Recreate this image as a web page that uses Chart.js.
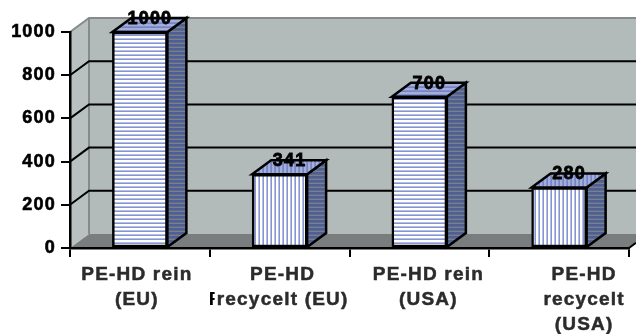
<!DOCTYPE html>
<html>
<head>
<meta charset="utf-8">
<style>
  html, body { margin: 0; padding: 0; background: #fff; }
  #chart { display: block; }
</style>
<script src="https://cdn.jsdelivr.net/npm/chart.js@4/dist/chart.umd.js"></script>
</head>
<body>
<canvas id="chart" width="636" height="334"></canvas>
<script>
const categories = [
  ["PE-HD rein", "(EU)"],
  ["PE-HD", "recycelt (EU)"],
  ["PE-HD rein", "(USA)"],
  ["PE-HD", "recycelt", "(USA)"],
];
const values = [1000, 341, 700, 280];
const yTicks = [0, 200, 400, 600, 800, 1000];
const stripeDirections = ["h", "v", "h", "v"];
const labelShifts = [-3, 3, 9, 25];

const DEPTH_X = 19;
const DEPTH_Y = 14;
const FONT = "'Liberation Sans', Arial, sans-serif";

// small repeating tile, used for the faces of the columns
function stripes(direction, base, soft, line, period) {
  const c = document.createElement("canvas");
  c.width = c.height = period;
  const g = c.getContext("2d");
  g.fillStyle = base;
  g.fillRect(0, 0, period, period);
  if (direction === "h") {
    g.fillStyle = soft;
    g.fillRect(0, period - 2, period, 1);
    g.fillStyle = line;
    g.fillRect(0, period - 1, period, 1);
  } else {
    g.fillStyle = soft;
    g.fillRect(period - 2, 0, 1, period);
    g.fillStyle = line;
    g.fillRect(period - 1, 0, 1, period);
  }
  return g.createPattern(c, "repeat");
}

function poly(ctx, points, fill, stroke, width) {
  ctx.beginPath();
  points.forEach((p, i) => (i ? ctx.lineTo(p[0], p[1]) : ctx.moveTo(p[0], p[1])));
  ctx.closePath();
  if (fill) {
    ctx.fillStyle = fill;
    ctx.fill();
  }
  if (stroke) {
    ctx.strokeStyle = stroke;
    ctx.lineWidth = width;
    ctx.lineJoin = "miter";
    ctx.stroke();
  }
}

const wallsPlugin = {
  id: "walls",
  afterLayout(chart) {
    // move the category labels sideways, each by its own amount
    chart.scales.x.getLabelItems().forEach((item, i) => {
      item.options.translation[0] += labelShifts[i];
    });
  },
  beforeDraw(chart) {
    const ctx = chart.ctx;
    const { left, right, top, bottom } = chart.chartArea;
    const edge = chart.width;
    const y = chart.scales.y;
    ctx.letterSpacing = "1.2px";
    ctx.save();
    // back wall, side wall, floor
    poly(ctx, [[left + DEPTH_X, top - DEPTH_Y], [edge, top - DEPTH_Y], [edge, bottom - DEPTH_Y], [left + DEPTH_X, bottom - DEPTH_Y]], "#b2baba");
    poly(ctx, [[left, top], [left + DEPTH_X, top - DEPTH_Y], [left + DEPTH_X, bottom - DEPTH_Y], [left, bottom]], "#b8c0c0");
    poly(ctx, [[left, bottom], [left + DEPTH_X, bottom - DEPTH_Y], [edge, bottom - DEPTH_Y], [edge, bottom - (edge - right) * DEPTH_Y / DEPTH_X], [right, bottom]], "#797d7e");
    // wall outline
    ctx.strokeStyle = "#868a8b";
    ctx.lineWidth = 2;
    ctx.beginPath();
    ctx.moveTo(left, top);
    ctx.lineTo(left + DEPTH_X, top - DEPTH_Y);
    ctx.lineTo(edge, top - DEPTH_Y);
    ctx.moveTo(left + DEPTH_X, top - DEPTH_Y);
    ctx.lineTo(left + DEPTH_X, bottom - DEPTH_Y);
    ctx.stroke();
    // gridlines bent across side and back wall
    ctx.strokeStyle = "#000";
    ctx.lineWidth = 2;
    yTicks.slice(1, -1).forEach((v) => {
      const py = y.getPixelForValue(v);
      ctx.beginPath();
      ctx.moveTo(left, py);
      ctx.lineTo(left + DEPTH_X, py - DEPTH_Y);
      ctx.lineTo(edge, py - DEPTH_Y);
      ctx.stroke();
    });
    // axis corner at the right of the floor
    ctx.beginPath();
    ctx.moveTo(right, bottom);
    ctx.lineTo(edge, bottom - (edge - right) * DEPTH_Y / DEPTH_X);
    ctx.stroke();
    ctx.restore();
  },
  afterDatasetsDraw(chart) {
    const ctx = chart.ctx;
    const meta = chart.getDatasetMeta(0);
    ctx.save();
    meta.data.forEach((bar, i) => {
      const l = bar.x - bar.width / 2;
      const r = bar.x + bar.width / 2;
      poly(ctx, [[r, bar.y], [r + DEPTH_X, bar.y - DEPTH_Y], [r + DEPTH_X, bar.base - DEPTH_Y], [r, bar.base]],
        stripes("h", "#4f5f92", "#5d6a92", "#77808c", 4), "#000", 2.5);
      poly(ctx, [[l, bar.y], [l + DEPTH_X, bar.y - DEPTH_Y], [r + DEPTH_X, bar.y - DEPTH_Y], [r, bar.y]],
        stripes(stripeDirections[i], "#a3aedd", "#8492cc", "#7684c0", 4), "#000", 2.5);
    });
    // value labels sit on the top face
    ctx.fillStyle = "#000";
    ctx.strokeStyle = "#000";
    ctx.lineWidth = 0.8;
    ctx.font = "bold 18px " + FONT;
    ctx.textAlign = "center";
    ctx.textBaseline = "middle";
    meta.data.forEach((bar, i) => {
      const t = String(values[i]);
      ctx.fillText(t, bar.x + 10, bar.y - DEPTH_Y + 1);
      ctx.strokeText(t, bar.x + 10, bar.y - DEPTH_Y + 1);
    });
    // leftover glyph in front of the second category label
    const bounds = chart.scales.x.getPixelForTick(1);
    ctx.beginPath();
    ctx.rect(bounds - 70, 290, 5, 20);
    ctx.clip();
    ctx.font = "bold 19px " + FONT;
    ctx.textAlign = "left";
    ctx.fillText("F", bounds - 71, 300);
    ctx.restore();
  },
};

new Chart(document.getElementById("chart"), {
  type: "bar",
  data: {
    labels: categories,
    datasets: [
      {
        data: values,
        backgroundColor: stripeDirections.map((d) => stripes(d, "#ffffff", "#b4bde6", "#8795d0", 4)),
        borderColor: "#000",
        borderWidth: 2.5,
        borderSkipped: false,
        barThickness: 55,
      },
    ],
  },
  options: {
    responsive: false,
    animation: false,
    layout: { padding: { top: 32, right: 7, left: 0, bottom: 0 } },
    plugins: { legend: { display: false }, tooltip: { enabled: false } },
    scales: {
      x: {
        afterFit(scale) {
          scale.height = 86;
        },
        border: { color: "#000", width: 2.5 },
        grid: { color: "#000", lineWidth: 2, drawOnChartArea: false, tickLength: 9 },
        ticks: {
          color: "#2b2b2b",
          textStrokeColor: "#2b2b2b",
          textStrokeWidth: 0.5,
          font: { family: FONT, size: 19, weight: "bold", lineHeight: "25px" },
          padding: 5,
          maxRotation: 0,
          autoSkip: false,
        },
      },
      y: {
        min: 0,
        max: 1000,
        afterFit(scale) {
          scale.width = 70;
        },
        afterBuildTicks(scale) {
          scale.ticks = yTicks.map((v) => ({ value: v }));
        },
        border: { color: "#000", width: 2.5 },
        grid: { color: "#000", lineWidth: 2, drawOnChartArea: false, tickLength: 9 },
        ticks: {
          color: "#000",
          textStrokeColor: "#000",
          textStrokeWidth: 0.6,
          font: { family: FONT, size: 18, weight: "bold" },
          padding: 5,
          callback: (v) => String(v),
        },
      },
    },
  },
  plugins: [wallsPlugin],
});
</script>
</body>
</html>
